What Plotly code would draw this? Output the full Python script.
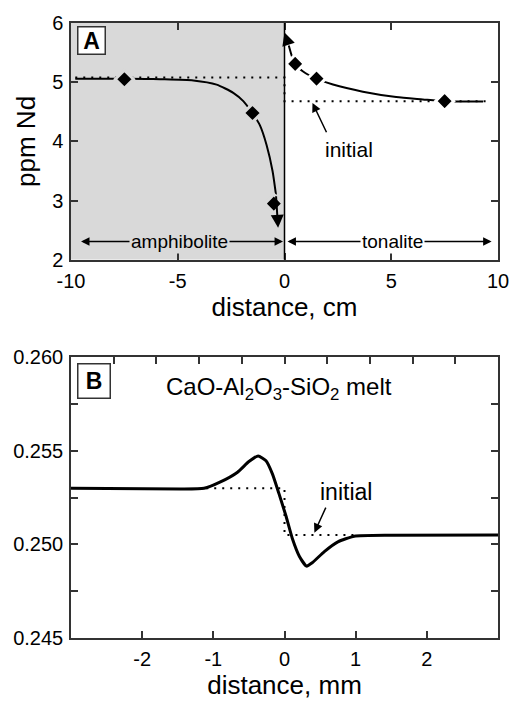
import plotly.graph_objects as go

FONT = "Liberation Sans, Arial, sans-serif"
AXC = "#333333"
GREY = "#d9d9d9"

# ---------- Panel A data ----------
amph_curve_x = [-9.8, -8.0, -6.5, -5.83, -4.27, -3.18, -2.40, -1.93, -1.51, -1.15, -0.84, -0.56, -0.40]
amph_curve_y = [5.06, 5.06, 5.055, 5.05, 5.03, 4.96, 4.82, 4.68, 4.48, 4.27, 3.94, 3.50, 3.10]
amph_arrow_tip = (-0.30, 2.54)

ton_curve_x = [0.20, 0.48, 0.87, 1.49, 2.27, 3.67, 5.23, 6.48, 7.46, 9.30]
ton_curve_y = [5.62, 5.31, 5.18, 5.06, 4.96, 4.84, 4.75, 4.71, 4.68, 4.675]
ton_arrow_tip = (0.0, 5.84)

meas_x = [-7.5, -1.5, -0.5, 0.5, 1.5, 7.5]
meas_y = [5.05, 4.48, 2.95, 5.31, 5.06, 4.68]

init_a_x = [-9.8, 0.0, 0.0, 9.6]
init_a_y = [5.08, 5.08, 4.68, 4.68]

a_xticks = [-10, -5, 0, 5, 10]
a_xticktext = ["-10", "-5", "0", "5", "10"]
a_yticks = [2, 3, 4, 5, 6]

# ---------- Panel B data ----------
melt_x = [-3.0, -1.46, -1.13, -0.90, -0.66, -0.50, -0.37, -0.26, -0.17, -0.08, 0.02, 0.11,
          0.21, 0.31, 0.39, 0.56, 0.75, 0.98, 1.50, 3.0]
melt_y = [0.2530, 0.25296, 0.2530, 0.25334, 0.25386, 0.25443, 0.25473, 0.25447, 0.25377,
          0.25274, 0.25153, 0.25032, 0.24936, 0.24884, 0.24902, 0.24962, 0.25014, 0.25044,
          0.25049, 0.2505]

init_b_x = [-1.1, 0.0, 0.0, 1.05]
init_b_y = [0.2530, 0.2530, 0.2505, 0.2505]

b_xticks = [-2, -1, 0, 1, 2]
b_xticktext = ["-2", "-1", "0", "1", "2"]
b_top_ticks = [-2.4, -1.8, -1.2, -0.6, 0.0, 0.6, 1.2, 1.8, 2.4]
b_yticks = [0.245, 0.2475, 0.250, 0.2525, 0.255, 0.2575, 0.260]
b_yticktext = ["0.245", "", "0.250", "", "0.255", "", "0.260"]

fig = go.Figure()

# Panel A traces
fig.add_trace(go.Scatter(x=init_a_x, y=init_a_y, mode="lines",
                         line=dict(color="black", width=2, dash="2px,6px"),
                         xaxis="x", yaxis="y", showlegend=False, hoverinfo="skip"))
fig.add_trace(go.Scatter(x=amph_curve_x, y=amph_curve_y, mode="lines",
                         line=dict(color="black", width=2, shape="spline", smoothing=0.6),
                         xaxis="x", yaxis="y", showlegend=False))
fig.add_trace(go.Scatter(x=ton_curve_x, y=ton_curve_y, mode="lines",
                         line=dict(color="black", width=2, shape="spline", smoothing=0.6),
                         xaxis="x", yaxis="y", showlegend=False))
fig.add_trace(go.Scatter(x=meas_x, y=meas_y, mode="markers",
                         marker=dict(symbol="diamond", size=14, color="black",
                                     line=dict(color=[GREY if v < 0 else "white" for v in meas_x], width=3)),
                         xaxis="x", yaxis="y", showlegend=False))

# Panel B traces
fig.add_trace(go.Scatter(x=init_b_x, y=init_b_y, mode="lines",
                         line=dict(color="black", width=2, dash="2px,6px"),
                         xaxis="x2", yaxis="y2", showlegend=False, hoverinfo="skip"))
fig.add_trace(go.Scatter(x=melt_x, y=melt_y, mode="lines",
                         line=dict(color="black", width=3, shape="spline", smoothing=0.5),
                         xaxis="x2", yaxis="y2", showlegend=False))
# dummy trace for the top axis of panel B
fig.add_trace(go.Scatter(x=[None], y=[None], xaxis="x3", yaxis="y2", showlegend=False))

axis_style = dict(showline=True, linecolor=AXC, linewidth=1.5, ticks="inside", ticklen=7,
                  tickwidth=1.5, tickcolor=AXC, showgrid=False, zeroline=False,
                  tickfont=dict(family=FONT, size=20, color="black"))

fig.update_layout(
    width=521, height=706,
    margin=dict(l=71, r=22, t=15, b=60),
    paper_bgcolor="white", plot_bgcolor="white",
    font=dict(family=FONT, color="black"),
    xaxis=dict(domain=[0, 1], anchor="y", range=[-10, 10], tickvals=a_xticks,
               ticktext=a_xticktext, mirror="ticks", ticklabelstandoff=2,
               title=dict(text="distance, cm", font=dict(size=26), standoff=4), **axis_style),
    yaxis=dict(domain=[0.6149, 1], anchor="x", range=[2, 6], tickvals=a_yticks,
               mirror="ticks", ticklabelstandoff=2,
               title=dict(text="ppm Nd", font=dict(size=26), standoff=9), **axis_style),
    xaxis2=dict(domain=[0, 1], anchor="y2", range=[-3, 3], tickvals=b_xticks,
                ticktext=b_xticktext, ticklabelstandoff=2,
                title=dict(text="distance, mm", font=dict(size=26), standoff=6), **axis_style),
    xaxis3=dict(overlaying="x2", anchor="y2", side="top", range=[-3, 3], tickvals=b_top_ticks,
                showticklabels=False, **axis_style),
    yaxis2=dict(domain=[0, 0.4564], anchor="x2", range=[0.245, 0.260], tickvals=b_yticks,
                ticktext=b_yticktext, mirror="ticks", ticklabelstandoff=2, **axis_style),
)

# shaded amphibolite half and contact line
fig.add_shape(type="rect", xref="x", yref="y", x0=-10, x1=0, y0=2, y1=6,
              fillcolor=GREY, line=dict(width=0), layer="below")
fig.add_shape(type="line", xref="x", yref="y", x0=0, x1=0, y0=2, y1=6,
              line=dict(color="black", width=1.5))

ann = []
# curve end arrows
ann.append(dict(xref="x", yref="y", axref="x", ayref="y",
                x=amph_arrow_tip[0], y=amph_arrow_tip[1], ax=amph_curve_x[-1], ay=amph_curve_y[-1],
                showarrow=True, arrowhead=2, arrowsize=1.3, arrowwidth=2, arrowcolor="black", text=""))
ann.append(dict(xref="x", yref="y", axref="x", ayref="y",
                x=ton_arrow_tip[0], y=ton_arrow_tip[1], ax=ton_curve_x[0], ay=ton_curve_y[0],
                showarrow=True, arrowhead=2, arrowsize=1.3, arrowwidth=2, arrowcolor="black", text=""))
# region double arrows
ann.append(dict(xref="x", yref="y", axref="x", ayref="y", x=-0.07, y=2.31, ax=-9.6, ay=2.31,
                showarrow=True, arrowhead=2, startarrowhead=2, arrowside="end+start",
                arrowsize=1.3, startarrowsize=1.3, arrowwidth=1.3, arrowcolor="black", text=""))
ann.append(dict(xref="x", yref="y", axref="x", ayref="y", x=9.7, y=2.31, ax=0.07, ay=2.31,
                showarrow=True, arrowhead=2, startarrowhead=2, arrowside="end+start",
                arrowsize=1.3, startarrowsize=1.3, arrowwidth=1.3, arrowcolor="black", text=""))
ann.append(dict(xref="x", yref="y", x=-4.9, y=2.31, text="amphibolite", showarrow=False,
                bgcolor=GREY, borderpad=1, font=dict(size=19)))
ann.append(dict(xref="x", yref="y", x=5.07, y=2.31, text="tonalite", showarrow=False,
                bgcolor="white", borderpad=1, font=dict(size=19)))
# initial labels
ann.append(dict(xref="x", yref="y", x=3.02, y=3.87, text="initial", showarrow=False,
                font=dict(size=21)))
ann.append(dict(xref="x", yref="y", axref="x", ayref="y", x=1.31, y=4.65, ax=2.0, ay=4.13,
                showarrow=True, arrowhead=2, arrowsize=1.2, arrowwidth=1.5, arrowcolor="black", text=""))
ann.append(dict(xref="x2", yref="y2", x=0.86, y=0.25282, text="initial", showarrow=False,
                font=dict(size=23)))
ann.append(dict(xref="x2", yref="y2", axref="x2", ayref="y2", x=0.42, y=0.25063, ax=0.59, ay=0.25205,
                showarrow=True, arrowhead=2, arrowsize=1.2, arrowwidth=1.5, arrowcolor="black", text=""))
# panel letters
ann.append(dict(xref="x", yref="y", x=-9.02, y=5.71, text="<b>A</b>", showarrow=False,
                font=dict(size=23), bgcolor="white", bordercolor=AXC, borderwidth=1.5,
                width=26, height=26, borderpad=0))
ann.append(dict(xref="x2", yref="y2", x=-2.67, y=0.25874, text="<b>B</b>", showarrow=False,
                font=dict(size=23), bgcolor="white", bordercolor=AXC, borderwidth=1.5,
                width=31, height=33, borderpad=0))
# melt label
ann.append(dict(xref="x2", yref="y2", x=-0.08, y=0.25835,
                text="CaO-Al<sub>2</sub>O<sub>3</sub>-SiO<sub>2</sub> melt", showarrow=False,
                font=dict(size=24)))

fig.update_layout(annotations=ann)

fig.write_html("out.html")
